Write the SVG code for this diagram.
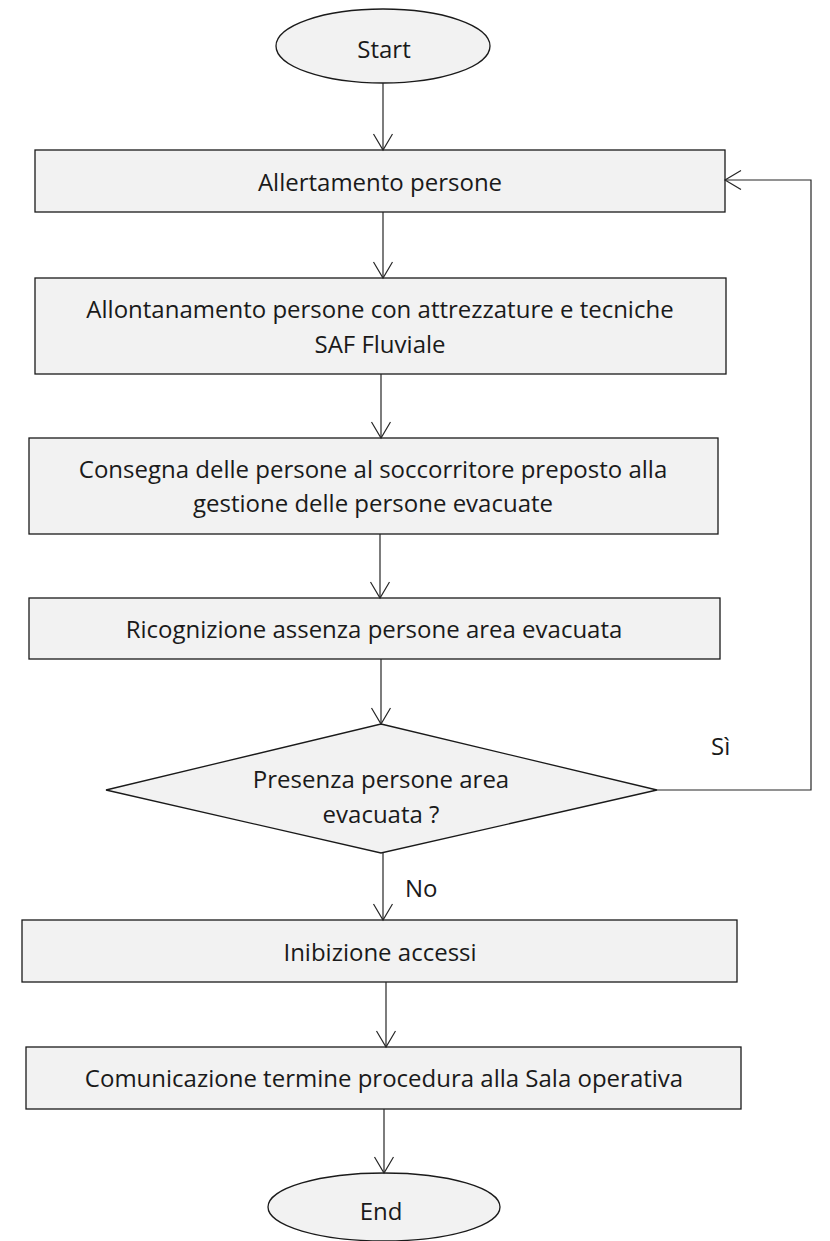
<svg xmlns="http://www.w3.org/2000/svg" width="830" height="1241" viewBox="0 0 830 1241">
<defs>
<style>
.n{fill:#f2f2f2;stroke:#1a1a1a;stroke-width:1.3}
.t{font-family:"Open Sans","Noto Sans",sans-serif;font-size:24px;fill:#1a1a1a;text-anchor:middle}
.l{font-family:"Open Sans","Noto Sans",sans-serif;font-size:24px;fill:#1a1a1a}
.c{fill:none;stroke:#262626;stroke-width:1.2}
</style>
<marker id="a" markerWidth="20" markerHeight="22" refX="17" refY="10" orient="auto" markerUnits="userSpaceOnUse">
<path d="M1,0.5 L17,10 L1,19.5" fill="none" stroke="#262626" stroke-width="1.2"/>
</marker>
</defs>
<g id="start"><ellipse class="n" cx="383" cy="46" rx="107" ry="37"/><text class="t" x="384" y="58">Start</text></g>
<g id="n1"><rect class="n" x="35" y="150" width="690" height="62"/><text class="t" x="380" y="191">Allertamento persone</text></g>
<g id="n2"><rect class="n" x="35" y="278" width="691" height="96"/><text class="t" x="380" y="318">Allontanamento persone con attrezzature e tecniche</text><text class="t" x="380" y="353">SAF Fluviale</text></g>
<g id="n3"><rect class="n" x="29" y="438" width="689" height="96"/><text class="t" x="373" y="478">Consegna delle persone al soccorritore preposto alla</text><text class="t" x="373" y="512">gestione delle persone evacuate</text></g>
<g id="n4"><rect class="n" x="29" y="598" width="691" height="61"/><text class="t" x="374" y="638">Ricognizione assenza persone area evacuata</text></g>
<g id="d1"><polygon class="n" points="381,724 657,790 381,853 106,790"/><text class="t" x="381" y="788">Presenza persone area</text><text class="t" x="381" y="823">evacuata ?</text></g>
<g id="n5"><rect class="n" x="22" y="920" width="715" height="62"/><text class="t" x="380" y="961">Inibizione accessi</text></g>
<g id="n6"><rect class="n" x="26" y="1047" width="715" height="62"/><text class="t" x="384" y="1087">Comunicazione termine procedura alla Sala operativa</text></g>
<g id="end"><ellipse class="n" cx="384" cy="1207" rx="116" ry="34"/><text class="t" x="381" y="1220">End</text></g>
<g id="connectors">
<line class="c" x1="383" y1="83" x2="383" y2="150" marker-end="url(#a)"/>
<line class="c" x1="383" y1="212" x2="383" y2="278" marker-end="url(#a)"/>
<line class="c" x1="381" y1="374" x2="381" y2="438" marker-end="url(#a)"/>
<line class="c" x1="380" y1="534" x2="380" y2="598" marker-end="url(#a)"/>
<line class="c" x1="381" y1="659" x2="381" y2="724" marker-end="url(#a)"/>
<line class="c" x1="383" y1="853" x2="383" y2="920" marker-end="url(#a)"/>
<line class="c" x1="386" y1="982" x2="386" y2="1047" marker-end="url(#a)"/>
<line class="c" x1="384" y1="1109" x2="384" y2="1173" marker-end="url(#a)"/>
<polyline class="c" points="657,790 811,790 811,180 725,180" marker-end="url(#a)"/>
<text class="l" x="711" y="755">Sì</text>
<text class="l" x="405" y="897">No</text>
</g>
</svg>
